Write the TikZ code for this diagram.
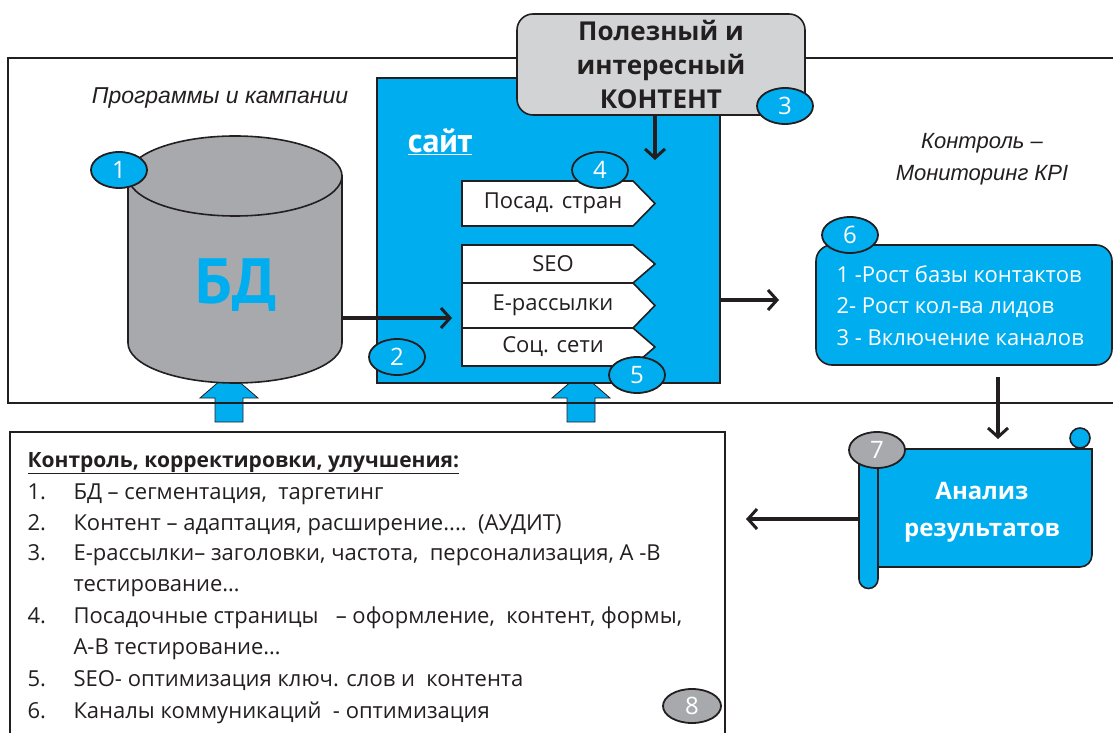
\documentclass[tikz,border=0pt]{standalone}
\usepackage{fontspec}
\setmainfont{Open Sans}
\newfontfamily\hdfont{PT Sans}
\newfontfamily\itfont{Liberation Sans}
\usetikzlibrary{arrows.meta,shapes.geometric}
\definecolor{cblue}{HTML}{00AEEF}
\definecolor{cgray}{HTML}{A7A9AC}
\definecolor{lgray}{HTML}{D1D3D4}
\definecolor{ink}{HTML}{231F20}
\tikzset{
  badge/.style={ellipse,draw=ink,line width=1.8pt,fill=cblue,text=white,minimum width=56pt,minimum height=36pt,inner sep=0pt,font=\fontsize{24}{24}\selectfont},
  gbadge/.style={badge,fill=cgray},
  conn/.style={draw=ink,line width=3.5pt,-{Straight Barb[length=9pt,width=20pt,line width=3pt]}},
  chev/.style={draw=ink,line width=1.6pt,fill=white},
  chevtext/.style={font=\fontsize{22}{22}\selectfont,text=ink},
  blockarrow/.style={fill=cblue,draw=ink,line width=0.8pt},
  itlabel/.style={font=\itfont\itshape\fontsize{22}{32}\selectfont,text=ink,align=center},
  listtext/.style={anchor=base west,font=\fontsize{22}{22}\selectfont,text=ink},
  kpitext/.style={anchor=base west,text=white,font=\fontsize{22}{22}\selectfont},
}
\begin{document}
\begin{tikzpicture}[x=1pt,y=1pt]
\useasboundingbox (0,0) rectangle (1113,732);
% block arrows up
\path[blockarrow] (215,310) -- (215,334) -- (200,334) -- (229,359) -- (258,334) -- (243,334) -- (243,310) -- cycle;
\path[blockarrow] (567,310) -- (567,334) -- (552,334) -- (581,359) -- (610,334) -- (595,334) -- (595,310) -- cycle;
% outer frame
\draw[ink,line width=1.6pt] (1125,674) -- (8,674) -- (8,329) -- (1125,329);
% labels
\node[itlabel,font=\itfont\itshape\fontsize{23}{32}\selectfont] (prog) at (220,634) {Программы и кампании};
\node[itlabel] (kpilbl) at (982,573) {Контроль –\\Мониторинг КРI};
% cylinder
\path[fill=cgray,draw=ink,line width=1.6pt] (128,556) -- (128,389) arc[start angle=180,end angle=360,x radius=107,y radius=40] -- (342,556) -- cycle;
\draw[fill=cgray,draw=ink,line width=1.6pt] (235,556) ellipse[x radius=107,y radius=40];
\node[font=\hdfont\bfseries\fontsize{64}{64}\selectfont,text=cblue] (bd) at (236,447) {БД};
\coordinate (bdout) at (342,414);
\node[badge] (b1) at (119,562) {1};
% site
\node[draw=ink,line width=1.6pt,fill=cblue,minimum width=343pt,minimum height=305pt,inner sep=0pt] (site) at (548.5,501.5) {};
\node[font=\hdfont\bfseries\fontsize{34}{34}\selectfont,text=white] (sitelbl) at (440,590) {\underline{сайт}};
% chevrons
\path[chev] (462,551) -- (633,551) -- (655,528.5) -- (633,506) -- (462,506) -- cycle;
\path[chev] (462,487) -- (633,487) -- (655,468) -- (633,449) -- (462,449) -- cycle;
\path[chev] (462,449) -- (633,449) -- (655,426.5) -- (633,404) -- (462,404) -- cycle;
\path[chev] (462,404) -- (633,404) -- (655,385) -- (633,366) -- (462,366) -- cycle;
\node[chevtext] (posad) at (553,528.5) {Посад. стран};
\node[chevtext] (seo) at (553,468) {SEO};
\node[chevtext] (erass) at (553,426.5) {Е-рассылки};
\node[chevtext] (soc) at (553,385) {Соц. сети};
\coordinate (sitein) at (452,414);
\coordinate (contin) at (655,572);
% content box
\node[draw=ink,line width=1.6pt,fill=lgray,rounded corners=16pt,minimum width=288pt,minimum height=101pt,inner sep=0pt,
      font=\bfseries\fontsize{26}{34}\selectfont,text=ink,align=center] (cont) at (661,667.5) {Полезный и\\интересный\\КОНТЕНТ};
\node[badge] (b3) at (785,626) {3};
\node[badge] (b4) at (600,562) {4};
\node[badge] (b2) at (397,375) {2};
\node[badge] (b5) at (637,357) {5};
% KPI box
\node[draw=ink,line width=1.6pt,fill=cblue,rounded corners=16pt,minimum width=296pt,minimum height=120pt,inner sep=0pt] (kpi) at (964,427) {};
\node[kpitext] (k1) at (833,449) {1 -Рост базы контактов};
\node[kpitext] (k2) at (833,418) {2- Рост кол-ва лидов};
\node[kpitext] (k3) at (833,387) {3 - Включение каналов};
\node[badge] (b6) at (850,497) {6};
\coordinate (kpiin) at (779,432);
\coordinate (siteout) at (720,432);
% scroll
\path[fill=cblue,draw=ink,line width=1.6pt] (878,283) -- (1092,283) -- (1092,177) arc[start angle=0,end angle=-90,radius=12] -- (878,165) -- cycle;
\path[fill=cblue,draw=ink,line width=1.6pt] (878,275) -- (878,153) arc[start angle=0,end angle=-180,radius=9.5] -- (859,275) -- cycle;
\draw[fill=cblue,draw=ink,line width=1.6pt] (1080,294) circle[radius=10];
\node[font=\bfseries\fontsize{24}{37}\selectfont,text=white,align=center] (anal) at (982,220) {Анализ\\результатов};
\node[gbadge] (b7) at (877,282) {7};
\coordinate (scrollin) at (998,293);
\coordinate (scrollout) at (859,213);
\coordinate (listin) at (746,213);
\coordinate (kpiout) at (998,355);
% list box
\draw[ink,line width=1.6pt] (10,-10) -- (10,300) -- (725,300) -- (725,-10);
\node[listtext,font=\bfseries\fontsize{21}{21}\selectfont] (ttl) at (24,265) {\underline{Контроль, корректировки, улучшения:}};
\node[listtext] (n1) at (24,233) {1.}; \node[listtext] (t1) at (70,233) {БД – сегментация,\ \ таргетинг};
\node[listtext] (n2) at (24,202) {2.}; \node[listtext] (t2) at (70,202) {Контент – адаптация, расширение....\ \ (АУДИТ)};
\node[listtext] (n3) at (24,172) {3.}; \node[listtext] (t3) at (70,172) {Е-рассылки– заголовки, частота,\ \ персонализация, А -В};
\node[listtext] (t3b) at (70,141) {тестирование…};
\node[listtext] (n4) at (24,109) {4.}; \node[listtext] (t4) at (70,109) {Посадочные страницы\ \ \ – оформление,\ \ контент, формы,};
\node[listtext] (t4b) at (70,78) {А-В тестирование…};
\node[listtext] (n5) at (24,46) {5.}; \node[listtext] (t5) at (70,46) {SEO- оптимизация ключ. слов и\ \ контента};
\node[listtext] (n6) at (24,14) {6.}; \node[listtext] (t6) at (70,14) {Каналы коммуникаций\ \ - оптимизация};
\node[gbadge,minimum width=58pt,minimum height=34pt] (b8) at (692,26) {8};
% connectors
\draw[conn] (bdout) -- (sitein);
\draw[conn] (cont.south -| contin) -- (contin);
\draw[conn] (siteout) -- (kpiin);
\draw[conn] (kpiout) -- (scrollin);
\draw[conn] (scrollout) -- (listin);
\end{tikzpicture}
\end{document}
